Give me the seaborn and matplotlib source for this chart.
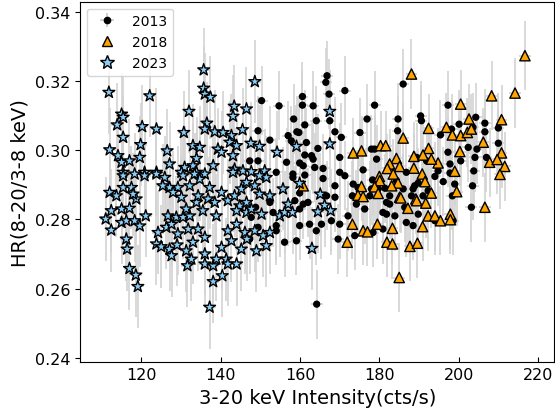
import numpy as np
import pandas as pd
import matplotlib
matplotlib.use("Agg")
import matplotlib.pyplot as plt
from matplotlib.lines import Line2D
import seaborn as sns

# ---- 2013 observation: 3-20 keV intensity (cts/s) and hardness ratio ----
x2013 = [
    150.3, 154.7, 149.4, 152.4, 157.0, 159.2, 147.3, 149.4, 156.6, 154.0,
    158.2, 148.8, 152.4, 153.2, 147.7, 149.4, 154.0, 147.3, 156.1, 159.1,
    154.0,
    160.6, 167.3, 171.3, 160.6, 163.3, 178.8, 158.4, 161.2, 164.1, 167.5,
    168.8, 159.7, 176.9, 184.7, 184.6, 175.1, 170.4, 157.8, 161.6, 164.5,
    162.9, 161.2, 163.3, 170.0, 178.0, 178.8, 179.3, 175.9, 165.8, 163.7,
    160.8, 159.9, 158.2, 161.2, 165.8, 170.0, 171.3, 173.4, 174.6, 178.3,
    178.0, 179.7, 181.4, 181.8, 177.6, 176.3, 174.2, 173.2, 168.8, 166.7,
    168.8, 160.8, 159.9, 158.7, 162.0, 159.9, 182.6, 183.9, 181.8, 172.1,
    167.9, 170.0, 165.4, 162.4, 159.9, 164.1, 169.6, 173.8, 186.8, 188.5,
    178.4, 180.9, 182.6, 186.0, 184.3, 186.4,
    166.8, 166.5, 164.2, 180.9,
    186.0, 197.3, 190.4, 190.6, 204.3, 200.1, 198.2, 195.4, 206.6, 206.6,
    203.6, 210.0, 210.0, 202.4, 204.6, 204.1, 207.0, 197.3, 200.5, 197.8,
    197.8, 194.8, 194.0, 196.1, 199.0, 198.4, 203.8, 203.5, 203.2, 189.4,
    191.9, 186.8, 189.8, 188.9, 188.1, 191.0,
    198.6, 192.3, 189.8, 188.5, 194.0,
]
hr2013 = [
    0.3143, 0.3128, 0.3056, 0.3029, 0.3042, 0.3053, 0.2969, 0.2969, 0.2965, 0.2936,
    0.2931, 0.2835, 0.2849, 0.2820, 0.2806, 0.2777, 0.2782, 0.2743, 0.2734, 0.2738,
    0.2767,
    0.3155, 0.3162, 0.3172, 0.3130, 0.3128, 0.3130, 0.3090, 0.3073, 0.3085, 0.3085,
    0.3053, 0.3051, 0.3090, 0.3090, 0.3056, 0.3051, 0.3037, 0.3027, 0.3022, 0.3005,
    0.2984, 0.2986, 0.2974, 0.2979, 0.3003, 0.3003, 0.2974, 0.2943, 0.2947, 0.2950,
    0.2955, 0.2963, 0.2921, 0.2928, 0.2918, 0.2936, 0.2926, 0.2902, 0.2892, 0.2914,
    0.2888, 0.2888, 0.2890, 0.2849, 0.2868, 0.2830, 0.2844, 0.2868, 0.2897, 0.2868,
    0.2864, 0.2844, 0.2876, 0.2854, 0.2849, 0.2830, 0.2844, 0.2810, 0.2815, 0.2810,
    0.2796, 0.2786, 0.2786, 0.2786, 0.2782, 0.2767, 0.2743, 0.2753, 0.2791, 0.2782,
    0.2762, 0.2772, 0.2868, 0.2888, 0.2912, 0.2835,
    0.3215, 0.3196, 0.2555, 0.2820,
    0.3191, 0.3130, 0.3099, 0.3085, 0.3095, 0.3075, 0.3061, 0.3044, 0.3078, 0.3053,
    0.3066, 0.3064, 0.3020, 0.3008, 0.3003, 0.2979, 0.2979, 0.2994, 0.2969, 0.2960,
    0.2934, 0.2940, 0.2924, 0.2909, 0.2902, 0.2868, 0.2940, 0.2897, 0.2835, 0.2979,
    0.2969, 0.2936, 0.2905, 0.2897, 0.2868, 0.2868,
    0.2796, 0.2883, 0.2815, 0.2888, 0.2796,
]

# ---- 2018 observation ----
x2018 = [
    186.0, 180.3, 181.6, 173.4, 175.5, 184.3, 188.7, 182.6, 185.1, 182.0,
    188.7, 183.5, 180.0, 184.7, 180.1, 175.5, 178.8, 183.1, 160.8, 174.6,
    175.9, 179.7, 185.1, 189.2, 187.2, 173.2, 175.9, 177.0, 179.5, 183.3,
    171.9, 181.9, 183.3, 187.7, 189.6,
    185.0,
    216.7, 188.1, 214.2, 208.3, 200.5, 210.8, 202.6, 196.9, 192.4, 198.4,
    200.5, 202.2, 203.2, 206.2, 192.4, 200.3, 210.8, 207.8, 209.7, 211.6,
    210.4, 194.8, 193.1, 191.0, 199.0, 190.8, 191.5, 193.1, 199.5, 185.4,
    189.4, 191.7, 206.6,
    190.9, 192.3, 194.0, 195.4, 197.9, 197.9,
]
hr2018 = [
    0.3035, 0.3013, 0.3013, 0.2992, 0.2998, 0.2976, 0.2982, 0.2960, 0.2953, 0.2947,
    0.2948, 0.2931, 0.2924, 0.2905, 0.2912, 0.2895, 0.2894, 0.2897, 0.2897, 0.2870,
    0.2866, 0.2875, 0.2864, 0.2859, 0.2832, 0.2786, 0.2767, 0.2764, 0.2786, 0.2774,
    0.2734, 0.2734, 0.2729, 0.2722, 0.2731,
    0.2632,
    0.3273, 0.3220, 0.3165, 0.3157, 0.3133, 0.3088, 0.3090, 0.3066, 0.3063, 0.3044,
    0.3042, 0.3051, 0.3061, 0.3023, 0.3005, 0.2996, 0.2992, 0.2965, 0.2973, 0.2953,
    0.2930, 0.2963, 0.2974, 0.2986, 0.2939, 0.2931, 0.2909, 0.2876, 0.2880, 0.2862,
    0.2854, 0.2847, 0.2835,
    0.2779, 0.2810, 0.2810, 0.2796, 0.2815, 0.2799,
]

# ---- 2023 observation ----
x2023 = [
    111.8, 122.1, 135.7, 135.7, 136.0, 137.4, 115.0, 115.4, 113.9, 132.0,
    143.4, 143.1, 146.5, 136.5, 136.0, 120.2, 123.8, 115.4, 130.7, 138.5,
    140.6, 142.7, 145.5, 119.8, 112.0, 126.5, 133.0, 134.7, 139.3, 142.3,
    144.0, 114.1, 115.0, 117.0, 119.6, 127.1, 133.9, 140.2, 143.1, 133.0,
    138.1, 130.9, 115.4, 120.8, 123.8, 130.1, 133.9, 136.0, 143.5, 145.6,
    115.4, 118.3, 120.8, 123.8, 125.9, 112.0, 113.7, 115.4, 117.5, 118.7,
    117.9, 112.4, 115.0, 117.0, 111.0, 112.4, 115.0, 116.2, 118.3, 119.6,
    121.1, 116.2, 116.4, 117.0, 118.6, 119.1, 124.2, 123.8, 125.0, 127.1,
    127.6, 129.0, 126.3, 127.6, 126.7, 128.8, 130.5, 132.2, 129.2, 131.8,
    134.3, 136.0, 133.0, 131.3, 132.6, 131.6, 136.0, 136.0, 138.1, 138.9,
    141.4, 138.1, 140.4, 141.8, 144.0, 137.2, 140.2, 142.7, 145.2, 146.1,
    141.8, 144.0, 138.9, 136.8, 138.5, 140.2, 141.8, 143.5, 144.8, 144.0,
    146.5, 137.2, 134.7, 132.2, 129.2, 127.1, 125.4, 128.0, 130.1, 131.3,
    133.9, 135.5, 134.3, 130.5, 133.4, 143.1, 145.2, 146.5,
    147.6, 149.8, 154.2, 159.1, 147.7, 151.1, 151.5, 149.8, 148.6, 149.8,
    152.4, 155.7, 157.0, 154.9, 156.1, 158.1, 150.3, 147.7, 146.5, 148.6,
    150.7, 152.4, 151.5, 149.0, 146.6,
    167.5, 167.5, 159.9, 165.1, 166.2, 164.5, 167.7, 163.0,
    148.6,
]
hr2023 = [
    0.3167, 0.3157, 0.3232, 0.3179, 0.3162, 0.3153, 0.3104, 0.3095, 0.3073, 0.3112,
    0.3127, 0.3098, 0.3119, 0.3078, 0.3061, 0.3068, 0.3061, 0.3037, 0.3051, 0.3053,
    0.3051, 0.3042, 0.3059, 0.3016, 0.3001, 0.2998, 0.3013, 0.3008, 0.3003, 0.3023,
    0.3013, 0.2984, 0.2965, 0.2969, 0.2979, 0.2960, 0.2976, 0.2994, 0.2984, 0.2955,
    0.2955, 0.2950, 0.2936, 0.2936, 0.2936, 0.2936, 0.2936, 0.2931, 0.2945, 0.2940,
    0.2926, 0.2931, 0.2926, 0.2931, 0.2921, 0.2878, 0.2868, 0.2892, 0.2892, 0.2859,
    0.2873, 0.2825, 0.2830, 0.2832, 0.2801, 0.2769, 0.2791, 0.2796, 0.2796, 0.2781,
    0.2810, 0.2743, 0.2714, 0.2658, 0.2639, 0.2606, 0.2762, 0.2729, 0.2721, 0.2714,
    0.2695, 0.2726, 0.2777, 0.2786, 0.2810, 0.2806, 0.2806, 0.2810, 0.2758, 0.2772,
    0.2772, 0.2748, 0.2734, 0.2709, 0.2685, 0.2666, 0.2700, 0.2671, 0.2666, 0.2685,
    0.2685, 0.2620, 0.2637, 0.2671, 0.2671, 0.2546, 0.2719, 0.2738, 0.2714, 0.2762,
    0.2767, 0.2786, 0.2810, 0.2859, 0.2849, 0.2878, 0.2854, 0.2868, 0.2839, 0.2825,
    0.2820, 0.2892, 0.2916, 0.2897, 0.2892, 0.2892, 0.2897, 0.2878, 0.2864, 0.2830,
    0.2849, 0.2825, 0.2868, 0.2926, 0.2931, 0.2936, 0.2888, 0.2907,
    0.3020, 0.3011, 0.2994, 0.3011, 0.2938, 0.2940, 0.2921, 0.2926, 0.2897, 0.2873,
    0.2868, 0.2888, 0.2844, 0.2810, 0.2820, 0.2820, 0.2815, 0.2830, 0.2849, 0.2767,
    0.2753, 0.2762, 0.2724, 0.2709, 0.2743,
    0.3112, 0.3018, 0.2904, 0.2873, 0.2841, 0.2822, 0.2825, 0.2716,
    0.3198,
]

# typical 1-sigma uncertainties per epoch
xerr_by_year = {"2013": 1.5, "2018": 1.5, "2023": 1.5}
yerr_by_year = {"2013": 0.010, "2018": 0.010, "2023": 0.012}

years = ["2013", "2018", "2023"]
series = {"2013": (x2013, hr2013), "2018": (x2018, hr2018), "2023": (x2023, hr2023)}

df = pd.concat(
    [pd.DataFrame({"intensity": series[yr][0], "hr": series[yr][1], "year": yr}) for yr in years],
    ignore_index=True,
)

fig = plt.figure(figsize=(5.55, 4.14), dpi=100)
ax = fig.add_axes([0.1447, 0.1225, 0.8540, 0.8710])

# grey error bars underneath all markers
for yr in years:
    sub = df[df["year"] == yr]
    ax.errorbar(sub["intensity"], sub["hr"], xerr=xerr_by_year[yr], yerr=yerr_by_year[yr],
                fmt="none", ecolor="lightgray", elinewidth=1.2, zorder=1)

palette = {"2013": "black", "2018": "orange", "2023": "lightskyblue"}
markers = {"2013": "o", "2018": "^", "2023": "*"}
sizes = {"2013": 18, "2018": 55, "2023": 80}

sns.scatterplot(data=df, x="intensity", y="hr", hue="year", style="year", size="year",
                palette=palette, markers=markers, sizes=sizes, edgecolor="black",
                linewidth=1.0, legend=False, ax=ax, zorder=3)

ax.set_xlim(104.6, 224.1)
ax.set_ylim(0.2387, 0.3429)
ax.set_xticks([120, 140, 160, 180, 200, 220])
ax.set_yticks([0.24, 0.26, 0.28, 0.30, 0.32, 0.34])
ax.set_xlabel("3-20 keV Intensity(cts/s)", fontsize=14)
ax.set_ylabel("HR(8-20/3-8 keV)", fontsize=14)
ax.tick_params(axis="x", direction="in", labelsize=11.5)
ax.tick_params(axis="y", direction="out", labelsize=11.5)

h13 = ax.errorbar([np.nan], [np.nan], xerr=1.0, yerr=0.01, fmt="o", color="black",
                  ecolor="lightgray", ms=4.5)
h18 = Line2D([], [], ls="none", marker="^", color="orange", mec="black", mew=1.0, ms=7.5)
h23 = Line2D([], [], ls="none", marker="*", color="lightskyblue", mec="black", mew=1.0, ms=10)
ax.legend([h13, h18, h23], years, loc="upper left", fontsize=10)

fig.savefig("out.png", dpi=100)
